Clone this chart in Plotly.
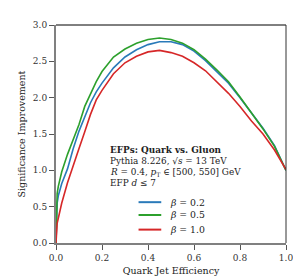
import plotly.graph_objects as go

quark_eff = [0, 0.002, 0.005, 0.01, 0.025, 0.05, 0.075, 0.1, 0.125, 0.15, 0.175, 0.2,
             0.25, 0.3, 0.35, 0.4, 0.45, 0.5, 0.55, 0.6, 0.65, 0.7, 0.75, 0.8, 0.85,
             0.9, 0.95, 1.0]

sig_beta02 = [0, 0.35, 0.55, 0.65, 0.82, 1.02, 1.30, 1.54, 1.74, 1.93, 2.08, 2.20,
              2.41, 2.56, 2.66, 2.73, 2.77, 2.77, 2.73, 2.64, 2.51, 2.36, 2.20, 2.00,
              1.79, 1.58, 1.34, 1.0]
sig_beta05 = [0, 0.45, 0.68, 0.78, 0.98, 1.22, 1.43, 1.63, 1.88, 2.06, 2.22, 2.36,
              2.56, 2.67, 2.75, 2.80, 2.82, 2.80, 2.75, 2.66, 2.53, 2.38, 2.22, 2.01,
              1.79, 1.57, 1.33, 1.0]
sig_beta10 = [0, 0.18, 0.27, 0.34, 0.55, 0.83, 1.05, 1.30, 1.53, 1.77, 1.97, 2.10,
              2.33, 2.48, 2.57, 2.63, 2.65, 2.62, 2.57, 2.48, 2.37, 2.22, 2.06, 1.88,
              1.68, 1.50, 1.28, 1.01]

series_names = ["<i>β</i> = 0.2", "<i>β</i> = 0.5", "<i>β</i> = 1.0"]
series_vals = [sig_beta02, sig_beta05, sig_beta10]
colors = ["#2a7ab9", "#2ca02c", "#d62728"]

x_ticks = [0, 0.2, 0.4, 0.6, 0.8, 1.0]
y_ticks = [0, 0.5, 1.0, 1.5, 2.0, 2.5, 3.0]

info_lines = [
    "<b>EFPs: Quark vs. Gluon</b>",
    "Pythia 8.226, √<i>s</i> = 13 TeV",
    "<i>R</i> = 0.4, <i>p</i><sub>T</sub> ∈ [500, 550] GeV",
    "EFP <i>d</i> ≤ 7",
]

font_family = "DejaVu Serif"
W, H = 301, 279
L, R, T, B = 42, 23, 12, 39
PW, PH = W - L - R, H - T - B


def px_x(p):
    return (p - L) / PW


def px_y(p):
    return (H - B - p) / PH


fig = go.Figure()
for name, vals, c in zip(series_names, series_vals, colors):
    fig.add_trace(go.Scatter(x=quark_eff, y=vals, mode="lines", name=name,
                             line=dict(color=c, width=1.6), showlegend=False))

axis_common = dict(ticks="outside", ticklen=5, tickcolor="#555", tickwidth=1,
                   showline=True, linecolor="#808080", linewidth=2, showgrid=False,
                   zeroline=False, tickfont=dict(size=9, color="#333"))

fig.update_layout(
    width=W, height=H,
    margin=dict(l=L, r=R, t=T, b=B),
    paper_bgcolor="white", plot_bgcolor="white",
    font=dict(family=font_family, size=9.5, color="#222"),
    xaxis=dict(range=[0, 1], tickvals=x_ticks, ticktext=[f"{v:.1f}" for v in x_ticks],
               title=dict(text="Quark Jet Efficiency", standoff=6, font=dict(size=9.5)),
               **axis_common),
    yaxis=dict(range=[0, 3], tickvals=y_ticks, ticktext=[f"{v:.1f}" for v in y_ticks],
               title=dict(text="Significance Improvement", standoff=6, font=dict(size=9.5)),
               **axis_common),
)

shapes = [
    dict(type="line", xref="paper", yref="paper", x0=0, x1=1, y0=1, y1=1,
         line=dict(color="black", width=1)),
    dict(type="line", xref="paper", yref="paper", x0=1, x1=1, y0=0, y1=1,
         line=dict(color="#333", width=1)),
]

# info text block
for txt, py in zip(info_lines, [143, 154.5, 166, 177.5]):
    fig.add_annotation(text=txt, x=px_x(95.5), y=px_y(py), xref="paper", yref="paper",
                       xanchor="left", yanchor="middle", showarrow=False,
                       font=dict(size=8.9, family=font_family, color="#222"))

# legend
for name, c, py in zip(series_names, colors, [197.3, 210.7, 226]):
    shapes.append(dict(type="line", xref="paper", yref="paper",
                       x0=px_x(126.7), x1=px_x(150), y0=px_y(py), y1=px_y(py),
                       line=dict(color=c, width=2)))
    fig.add_annotation(text=name, x=px_x(156.5), y=px_y(py), xref="paper", yref="paper",
                       xanchor="left", yanchor="middle", showarrow=False,
                       font=dict(size=9.3, family=font_family, color="#222"))

fig.update_layout(shapes=shapes)
fig.write_html("out.html")
